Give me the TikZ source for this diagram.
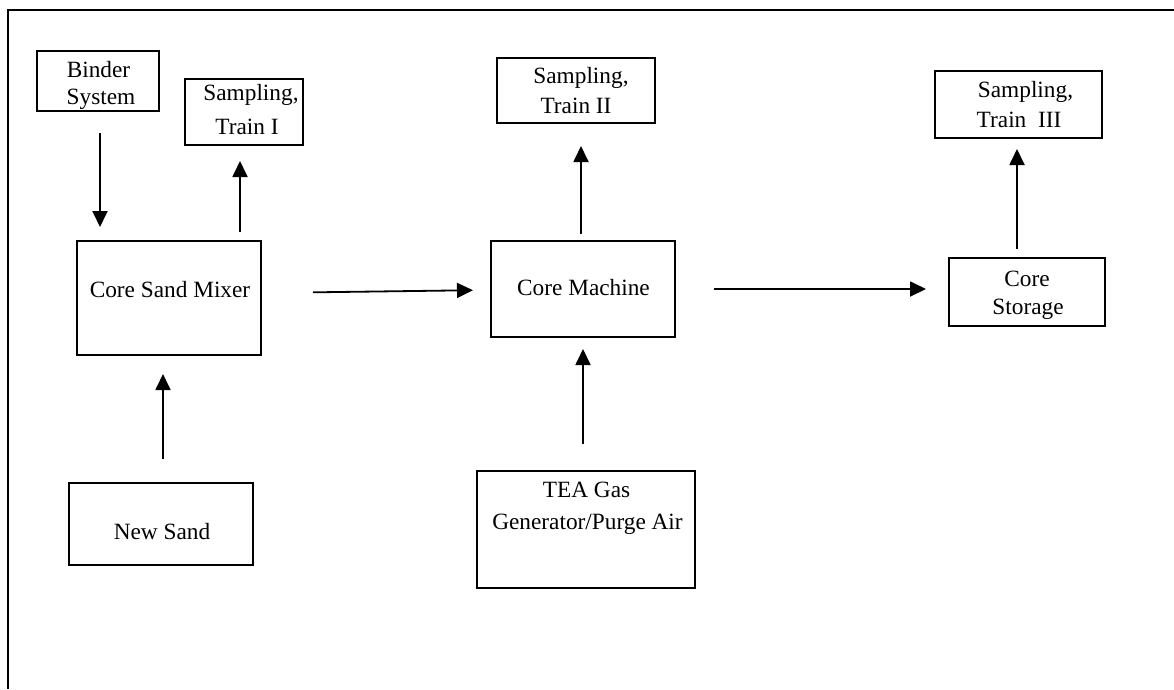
\documentclass[tikz,border=0pt]{standalone}
\usepackage{fontspec}
\setmainfont{Liberation Serif}
\usetikzlibrary{arrows.meta}
\begin{document}
\begin{tikzpicture}[x=1pt,y=-1pt,
  box/.style={draw=black, line width=2pt, rectangle, inner sep=0pt},
  txt/.style={anchor=base, inner sep=0pt, font=\fontsize{23.3}{28}\selectfont},
  arr/.style={line width=1.8pt, -{Triangle[width=15pt,length=16pt]}},
  frame/.style={line width=2pt}]
\useasboundingbox (0,0) rectangle (1174,689);
\draw[frame] (1174,10) -- (8,10) -- (8,689);

% boxes
\node[box, minimum width=122pt, minimum height=60pt] (binder) at (98,81) {};
\node[box, minimum width=118pt, minimum height=66pt] (samp1) at (244,112) {};
\node[box, minimum width=184pt, minimum height=114pt] (mixer) at (169,298) {};
\node[box, minimum width=184pt, minimum height=82pt] (sand) at (161,524) {};
\node[box, minimum width=158pt, minimum height=65pt] (samp2) at (576,90.5) {};
\node[box, minimum width=184pt, minimum height=96pt] (machine) at (583,289) {};
\node[box, minimum width=218pt, minimum height=117pt] (tea) at (586,529.5) {};
\node[box, minimum width=167pt, minimum height=67pt] (samp3) at (1018.5,104.5) {};
\node[box, minimum width=156pt, minimum height=68pt] (storage) at (1027,292) {};

% texts
\node[txt] (tbinder1) at (98.5,77) {Binder};
\node[txt] (tbinder2) at (101,104) {System};
\node[txt] (tsamp1a) at (251,100) {Sampling,};
\node[txt] (tsamp1b) at (247,134) {Train I};
\node[txt] (tmixer) at (170,297) {Core Sand Mixer};
\node[txt] (tsand) at (162,539) {New Sand};
\node[txt] (tsamp2a) at (581,83) {Sampling,};
\node[txt] (tsamp2b) at (576,113) {Train II};
\node[txt] (tmachine) at (583.5,295) {Core Machine};
\node[txt] (ttea1) at (586.5,497) {TEA Gas};
\node[txt] (ttea2) at (587.5,529) {Generator/Purge Air};
\node[txt] (tsamp3a) at (1025.5,97) {Sampling,};
\node[txt] (tsamp3b) at (1019,127) {Train\ \ III};
\node[txt] (tstor1) at (1027,286) {Core};
\node[txt] (tstor2) at (1028,314) {Storage};

% connectors
\draw[arr, shorten <=21pt, shorten >=13pt] ([xshift=2pt]binder.south) -- ([xshift=2pt]binder.south |- mixer.north);
\draw[arr, shorten <=8pt, shorten >=15pt] ([xshift=71pt]mixer.north) -- ([xshift=71pt]mixer.north |- samp1.south);
\draw[arr, shorten <=23pt, shorten >=18pt] ([xshift=2pt]sand.north) -- ([xshift=2pt]sand.north |- mixer.south);
\draw[arr, shorten <=51pt, shorten >=17pt] ([yshift=5pt]mixer.east) -- ([yshift=-1pt]machine.west);
\draw[arr, shorten <=6pt, shorten >=22pt] ([xshift=-2pt]machine.north) -- ([xshift=-2pt]machine.north |- samp2.south);
\draw[arr, shorten <=26pt, shorten >=11pt] (tea.north -| machine.south) -- (machine.south);
\draw[arr, shorten <=38pt, shorten >=22pt] (machine.east) -- (machine.east -| storage.west);
\draw[arr, shorten <=8pt, shorten >=10pt] ([xshift=-10pt]storage.north) -- ([xshift=-10pt]storage.north |- samp3.south);
\end{tikzpicture}
\end{document}
